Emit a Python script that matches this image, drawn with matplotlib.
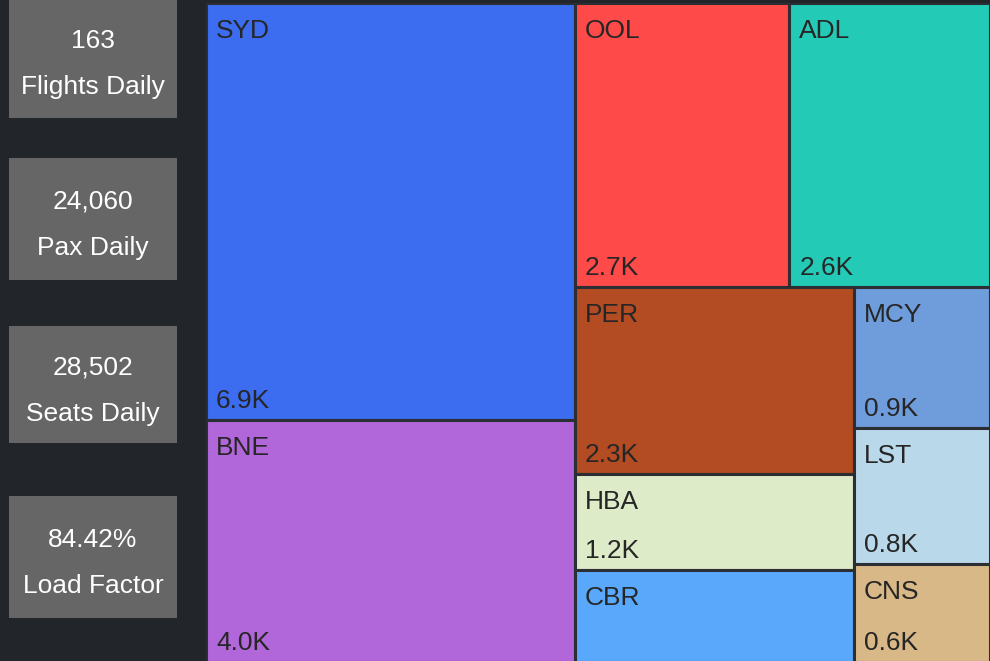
import matplotlib
matplotlib.use('Agg')
import matplotlib.pyplot as plt
from matplotlib.patches import Rectangle

# Daily passengers per destination (thousands)
airports = ['SYD', 'BNE', 'OOL', 'ADL', 'PER', 'HBA', 'CBR', 'MCY', 'LST', 'CNS']
pax_k = [6.9, 4.0, 2.74, 2.56, 2.34, 1.2, 1.15, 0.86, 0.83, 0.6]
colors = ['#3c6cf0', '#b166da', '#ff4a4a', '#23cbb7', '#b34b23',
          '#ddebc9', '#59a8fc', '#6f9cdb', '#b9d8ea', '#d8b887']

# Summary cards
card_values = ['163', '24,060', '28,502', '84.42%']
card_labels = ['Flights Daily', 'Pax Daily', 'Seats Daily', 'Load Factor']

BG = '#222529'
CARD = '#666666'
EDGE = '#2b2e33'
TEXT_DARK = '#262626'
FONT = 'Liberation Sans'
PHI = (1 + 5 ** 0.5) / 2
W, H = 990, 661


def dice(items, x0, y0, x1, y1, total):
    """Lay items side by side horizontally"""
    out = []
    x = x0
    for name, v in items:
        w = (x1 - x0) * v / total
        out.append((name, x, y0, w, y1 - y0))
        x += w
    return out


def slice_(items, x0, y0, x1, y1, total):
    """Stack items vertically"""
    out = []
    y = y0
    for name, v in items:
        h = (y1 - y0) * v / total
        out.append((name, x0, y, x1 - x0, h))
        y += h
    return out


def squarify(items, x0, y0, x1, y1, ratio=PHI):
    """Squarified treemap, same rule as d3-hierarchy"""
    rects = []
    value = sum(v for _, v in items)
    i0 = 0
    n = len(items)
    while i0 < n:
        dx, dy = x1 - x0, y1 - y0
        i1 = i0
        s = items[i1][1]
        i1 += 1
        vmin = vmax = s
        alpha = max(dy / dx, dx / dy) / (value * ratio)
        beta = s * s * alpha
        best = max(vmax / beta, beta / vmin)
        while i1 < n:
            v = items[i1][1]
            s2 = s + v
            beta = s2 * s2 * alpha
            new = max(max(vmax, v) / beta, beta / min(vmin, v))
            if new > best:
                break
            s, best = s2, new
            vmin, vmax = min(vmin, v), max(vmax, v)
            i1 += 1
        row = items[i0:i1]
        if dx < dy:
            yb = y0 + dy * s / value
            rects += dice(row, x0, y0, x1, yb, s)
            y0 = yb
        else:
            xb = x0 + dx * s / value
            rects += slice_(row, x0, y0, xb, y1, s)
            x0 = xb
        value -= s
        i0 = i1
    return rects


plt.rcParams['font.family'] = [FONT, 'DejaVu Sans']
fig = plt.figure(figsize=(W / 100, H / 100), dpi=100, facecolor=BG)

# Background axes in pixel units for the summary cards
ax0 = fig.add_axes([0, 0, 1, 1])
ax0.set_xlim(0, W)
ax0.set_ylim(H, 0)
ax0.axis('off')
card_tops = [-2, 158, 326, 496]
card_heights = [120, 122, 117, 122]
for val, lab, top, hgt in zip(card_values, card_labels, card_tops, card_heights):
    ax0.add_patch(Rectangle((9, top), 168, hgt, facecolor=CARD, edgecolor='none'))
    cy = top + hgt / 2
    ax0.text(93, cy - 17, val, color='white', fontsize=19, ha='center', va='center')
    ax0.text(93, cy + 29, lab, color='white', fontsize=19, ha='center', va='center')

# Treemap axes
tx0, tx1, ty0, ty1 = 206, 990, 3, 662
ax = fig.add_axes([tx0 / W, (H - ty1) / H, (tx1 - tx0) / W, (ty1 - ty0) / H])
tw, th = tx1 - tx0, ty1 - ty0
ax.set_xlim(0, tw)
ax.set_ylim(th, 0)
ax.axis('off')

color_of = dict(zip(airports, colors))
value_of = dict(zip(airports, pax_k))
cells = squarify(list(zip(airports, pax_k)), 0, 0, tw, th)
for name, x, y, w, h in cells:
    ax.add_patch(Rectangle((x, y), w, h, facecolor=color_of[name],
                           edgecolor=EDGE, linewidth=2.2))
    ax.text(x + 10, y + 28, name, color=TEXT_DARK, fontsize=19,
            ha='left', va='center', clip_on=True)
    # value only when there is room for it
    if h >= 94:
        ax.text(x + 10, y + h - 19, f'{value_of[name]:.1f}K', color=TEXT_DARK,
                fontsize=19, ha='left', va='center', clip_on=True)

fig.savefig('out.png', dpi=100, facecolor=BG)
